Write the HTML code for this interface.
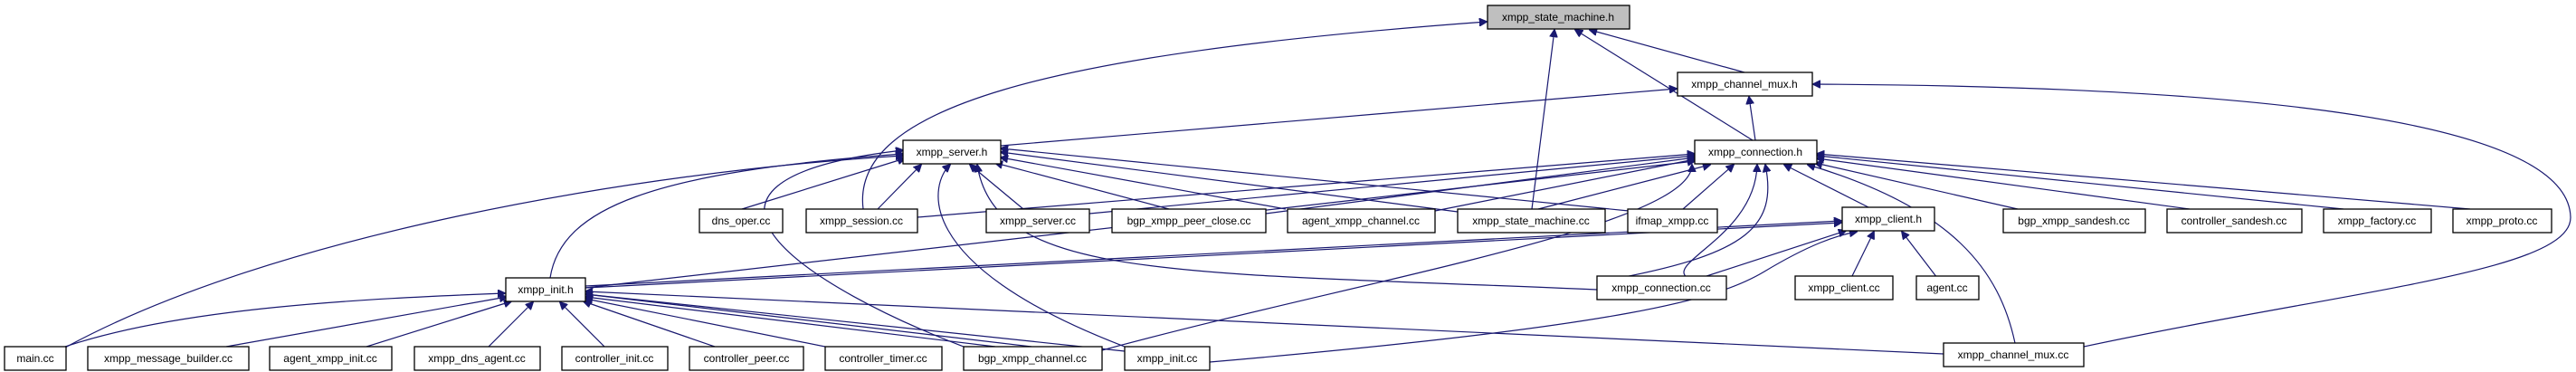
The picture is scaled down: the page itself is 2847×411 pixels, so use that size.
<!DOCTYPE html>
<html><head><meta charset="utf-8"><style>
html,body{margin:0;padding:0;background:#fff;}
svg{display:block;}
text{font-family:"Liberation Sans",sans-serif;font-size:12px;fill:#000;text-anchor:middle;}
.n{fill:#fff;stroke:#000;stroke-width:1.3;}
.e{fill:none;stroke:#191970;stroke-width:1.2;}
</style></head><body>
<svg width="2847" height="411" viewBox="0 0 2847 411">
<defs><marker id="a" viewBox="0 0 10 10" refX="9" refY="5" markerWidth="9" markerHeight="9" markerUnits="userSpaceOnUse" orient="auto"><path d="M0,0L10,5L0,10z" fill="#191970" stroke="#191970"/></marker></defs>
<g class="e" marker-end="url(#a)">
<path d="M1928,80L1757,33"/>
<path d="M1937,155L1741,33"/>
<path d="M1693,231L1718,33"/>
<path d="M954,231C940,120 1150,60 1643,24"/>
<path d="M1940,155L1933,107"/>
<path d="M1106,161L1853,98"/>
<path d="M2303,383C2600,320 2842,300 2841,240C2838,120 2400,95 2004,93"/>
<path d="M820,231L1000,175"/>
<path d="M970,231L1018,182"/>
<path d="M1131,231L1072,182"/>
<path d="M1292,231L1100,180"/>
<path d="M1421,231L1106,174"/>
<path d="M1611,234L1106,168"/>
<path d="M1800,233L1106,164"/>
<path d="M72,384C300,260 700,190 998,172"/>
<path d="M608,307C620,230 720,190 998,170"/>
<path d="M1065,383C900,320 700,200 998,166"/>
<path d="M1243,383C1000,290 1030,200 1050,182"/>
<path d="M1765,320C1300,300 1100,310 1080,182"/>
<path d="M1014,240L1873,170"/>
<path d="M1204,236L1873,172"/>
<path d="M1399,236L1873,174"/>
<path d="M1586,233L1873,176"/>
<path d="M1700,231L1890,182"/>
<path d="M1860,231L1916,182"/>
<path d="M2065,229L1972,182"/>
<path d="M2230,231L2006,180"/>
<path d="M2420,231L2008,175"/>
<path d="M2590,231L2008,172"/>
<path d="M2730,231L2008,170"/>
<path d="M647,318L1873,178"/>
<path d="M1865,307C1840,290 1940,260 1942,182"/>
<path d="M1790,307C1930,280 1965,250 1951,182"/>
<path d="M2227,379C2210,300 2160,230 1998,182"/>
<path d="M1218,387C1500,310 1870,250 1870,182"/>
<path d="M647,316L2035,244"/>
<path d="M647,318L2035,246"/>
<path d="M1880,307L2040,255"/>
<path d="M2046,307L2071,256"/>
<path d="M2141,307L2102,256"/>
<path d="M1337,400C1800,360 1900,330 1950,300C2000,270 2030,260 2052,256"/>
<path d="M72,383C200,340 400,330 558,324"/>
<path d="M250,383L560,328"/>
<path d="M405,383L565,333"/>
<path d="M540,383L589,334"/>
<path d="M668,383L619,334"/>
<path d="M790,383L645,333"/>
<path d="M912,383L647,330"/>
<path d="M1100,383L647,328"/>
<path d="M1243,388L647,325"/>
<path d="M2148,391L647,322"/>
<path d="M1140,383L647,325"/>
</g>
<g>
<rect class="n" x="1644" y="6" width="157" height="26" style="fill:#bfbfbf"/><text x="1722" y="23">xmpp_state_machine.h</text>
<rect class="n" x="1854" y="80" width="149" height="26"/><text x="1928" y="97">xmpp_channel_mux.h</text>
<rect class="n" x="998" y="155" width="108" height="26"/><text x="1052" y="172">xmpp_server.h</text>
<rect class="n" x="1873" y="155" width="135" height="26"/><text x="1940" y="172">xmpp_connection.h</text>
<rect class="n" x="773" y="231" width="92" height="26"/><text x="819" y="248">dns_oper.cc</text>
<rect class="n" x="891" y="231" width="123" height="26"/><text x="952" y="248">xmpp_session.cc</text>
<rect class="n" x="1090" y="231" width="114" height="26"/><text x="1147" y="248">xmpp_server.cc</text>
<rect class="n" x="1229" y="231" width="170" height="26"/><text x="1314" y="248">bgp_xmpp_peer_close.cc</text>
<rect class="n" x="1423" y="231" width="163" height="26"/><text x="1504" y="248">agent_xmpp_channel.cc</text>
<rect class="n" x="1611" y="231" width="163" height="26"/><text x="1692" y="248">xmpp_state_machine.cc</text>
<rect class="n" x="1799" y="231" width="99" height="26"/><text x="1848" y="248">ifmap_xmpp.cc</text>
<rect class="n" x="2036" y="229" width="102" height="26"/><text x="2087" y="246">xmpp_client.h</text>
<rect class="n" x="2214" y="231" width="157" height="26"/><text x="2292" y="248">bgp_xmpp_sandesh.cc</text>
<rect class="n" x="2395" y="231" width="149" height="26"/><text x="2469" y="248">controller_sandesh.cc</text>
<rect class="n" x="2568" y="231" width="119" height="26"/><text x="2627" y="248">xmpp_factory.cc</text>
<rect class="n" x="2711" y="231" width="109" height="26"/><text x="2765" y="248">xmpp_proto.cc</text>
<rect class="n" x="559" y="307" width="88" height="26"/><text x="603" y="324">xmpp_init.h</text>
<rect class="n" x="1765" y="305" width="143" height="26"/><text x="1836" y="322">xmpp_connection.cc</text>
<rect class="n" x="1984" y="305" width="108" height="26"/><text x="2038" y="322">xmpp_client.cc</text>
<rect class="n" x="2118" y="305" width="69" height="26"/><text x="2152" y="322">agent.cc</text>
<rect class="n" x="5" y="383" width="68" height="26"/><text x="39" y="400">main.cc</text>
<rect class="n" x="97" y="383" width="178" height="26"/><text x="186" y="400">xmpp_message_builder.cc</text>
<rect class="n" x="298" y="383" width="135" height="26"/><text x="365" y="400">agent_xmpp_init.cc</text>
<rect class="n" x="458" y="383" width="139" height="26"/><text x="527" y="400">xmpp_dns_agent.cc</text>
<rect class="n" x="621" y="383" width="117" height="26"/><text x="679" y="400">controller_init.cc</text>
<rect class="n" x="762" y="383" width="126" height="26"/><text x="825" y="400">controller_peer.cc</text>
<rect class="n" x="912" y="383" width="129" height="26"/><text x="976" y="400">controller_timer.cc</text>
<rect class="n" x="1065" y="383" width="153" height="26"/><text x="1141" y="400">bgp_xmpp_channel.cc</text>
<rect class="n" x="1243" y="383" width="94" height="26"/><text x="1290" y="400">xmpp_init.cc</text>
<rect class="n" x="2148" y="379" width="155" height="26"/><text x="2225" y="396">xmpp_channel_mux.cc</text>
</g>
</svg>
</body></html>
